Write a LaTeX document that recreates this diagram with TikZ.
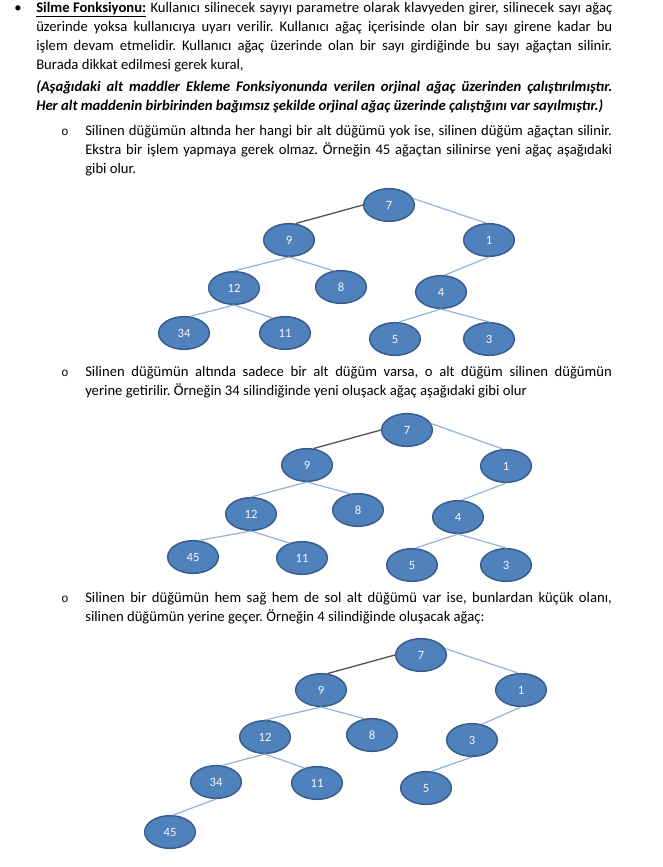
\documentclass[tikz,border=0pt]{standalone}
\usepackage{fontspec}
\setmainfont{Carlito}
\newfontfamily\monof{Liberation Mono}
\usetikzlibrary{shapes.geometric}
\definecolor{nodefill}{HTML}{4F81BD}
\definecolor{nodedraw}{HTML}{385D8A}
\definecolor{nodetext}{HTML}{F2F5FA}
\definecolor{edgeblue}{HTML}{93B3DB}
\definecolor{edgedark}{HTML}{555555}
\tikzset{
 tn/.style={ellipse, fill=nodefill, draw=nodedraw, line width=1.1pt, minimum width=38pt, minimum height=24.5pt, inner sep=0pt, text=nodetext, font=\fontsize{9.5}{11}\selectfont},
 eb/.style={draw=edgeblue, line width=0.9pt},
 ed/.style={draw=edgedark, line width=1pt},
 txt/.style={anchor=base west, inner sep=0pt, font=\fontsize{11}{13}\selectfont\frenchspacing},
 bul/.style={anchor=base, inner sep=0pt, font=\fontsize{11}{13}\selectfont},
 subbul/.style={anchor=base, inner sep=0pt, font=\fontsize{9}{11}\monof},
}
\begin{document}
\begin{tikzpicture}[x=0.75pt, y=-0.75pt]
\useasboundingbox (0,0) rectangle (663,867);
\fill[white] (0,0) rectangle (663,867);

% ---- paragraph 1 ----
\node[bul] (b1) at (18,12.5) {•};
\node[txt] (l1) at (36,12.5) {\makebox[432pt][s]{\underline{\textbf{Silme Fonksiyonu:}} Kullanıcı silinecek sayıyı parametre olarak klavyeden girer, silinecek sayı ağaç}};
\node[txt] (l2) at (36,31.5) {\makebox[432pt][s]{üzerinde yoksa kullanıcıya uyarı verilir. Kullanıcı ağaç içerisinde olan bir sayı girene kadar bu}};
\node[txt] (l3) at (36,50.5) {\makebox[432pt][s]{işlem devam etmelidir. Kullanıcı ağaç üzerinde olan bir sayı girdiğinde bu sayı ağaçtan silinir.}};
\node[txt] (l4) at (36,69.5) {Burada dikkat edilmesi gerek kural,};
\node[txt] (l5) at (36,91.5) {\makebox[432pt][s]{\bfseries\itshape (Aşağıdaki alt maddler Ekleme Fonksiyonunda verilen orjinal ağaç üzerinden çalıştırılmıştır.}};
\node[txt] (l6) at (36,110.5) {\bfseries\itshape Her alt maddenin birbirinden bağımsız şekilde orjinal ağaç üzerinde çalıştığını var sayılmıştır.)};

% ---- sub item 1 ----
\node[subbul] (s1) at (65,135.5) {o};
\node[txt] (l7) at (85,135.5) {\makebox[395pt][s]{Silinen düğümün altında her hangi bir alt düğümü yok ise, silinen düğüm ağaçtan silinir.}};
\node[txt] (l8) at (85,154.5) {\makebox[395pt][s]{Ekstra bir işlem yapmaya gerek olmaz. Örneğin 45 ağaçtan silinirse yeni ağaç aşağıdaki}};
\node[txt] (l9) at (85,173.5) {gibi olur.};

% ---- tree 1 ----
\node[tn] (a7) at (389,205) {7};
\node[tn] (a9) at (289,240) {9};
\node[tn] (a1) at (489,240) {1};
\node[tn] (a12) at (234,288) {12};
\node[tn] (a8) at (341,287) {8};
\node[tn] (a4) at (441,292) {4};
\node[tn] (a34) at (184,333) {34};
\node[tn] (a11) at (285,333) {11};
\node[tn] (a5) at (395,339) {5};
\node[tn] (a3) at (489,339) {3};
\draw[ed] (a7.west) -- (a9.68);
\draw[eb] (a7.15) -- (a1.100);
\draw[eb] (a9.south) -- (a12.north);
\draw[eb] (a9.south) -- (a8.115);
\draw[eb] (a12.south) -- (a34.70);
\draw[eb] (a12.south) -- (a11.130);
\draw[eb] (a1.south) -- (a4.78);
\draw[eb] (a4.south) -- (a5.78);
\draw[eb] (a4.south) -- (a3.north);

% ---- sub item 2 ----
\node[subbul] (s2) at (65,376.5) {o};
\node[txt] (l10) at (85,376.5) {\makebox[395pt][s]{Silinen düğümün altında sadece bir alt düğüm varsa, o alt düğüm silinen düğümün}};
\node[txt] (l11) at (85,395.5) {yerine getirilir. Örneğin 34 silindiğinde yeni oluşack ağaç aşağıdaki gibi olur};

% ---- tree 2 ----
\node[tn] (b7) at (407,430) {7};
\node[tn] (b9) at (307,465) {9};
\node[tn] (b1) at (506,466) {1};
\node[tn] (b12) at (251,514) {12};
\node[tn] (b8) at (358,510) {8};
\node[tn] (b4) at (458,517) {4};
\node[tn] (b45) at (193,557) {45};
\node[tn] (b11) at (302,558) {11};
\node[tn] (b5) at (412,565) {5};
\node[tn] (b3) at (506,565) {3};
\draw[ed] (b7.west) -- (b9.68);
\draw[eb] (b7.15) -- (b1.100);
\draw[eb] (b9.south) -- (b12.north);
\draw[eb] (b9.south) -- (b8.115);
\draw[eb] (b12.south) -- (b45.70);
\draw[eb] (b12.south) -- (b11.130);
\draw[eb] (b1.south) -- (b4.78);
\draw[eb] (b4.south) -- (b5.78);
\draw[eb] (b4.south) -- (b3.north);

% ---- sub item 3 ----
\node[subbul] (s3) at (65,602) {o};
\node[txt] (l12) at (85,602) {\makebox[395pt][s]{Silinen bir düğümün hem sağ hem de sol alt düğümü var ise, bunlardan küçük olanı,}};
\node[txt] (l13) at (85,621) {silinen düğümün yerine geçer. Örneğin 4 silindiğinde oluşacak ağaç:};

% ---- tree 3 ----
\node[tn] (c7) at (421,655) {7};
\node[tn] (c9) at (321,690) {9};
\node[tn] (c1) at (521,690) {1};
\node[tn] (c12) at (265,737) {12};
\node[tn] (c8) at (372,735) {8};
\node[tn] (c3) at (472,740) {3};
\node[tn] (c34) at (216,782) {34};
\node[tn] (c11) at (317,783) {11};
\node[tn] (c5) at (426,788) {5};
\node[tn] (c45) at (170,832) {45};
\draw[ed] (c7.west) -- (c9.68);
\draw[eb] (c7.15) -- (c1.100);
\draw[eb] (c9.south) -- (c12.north);
\draw[eb] (c9.south) -- (c8.115);
\draw[eb] (c12.south) -- (c34.70);
\draw[eb] (c12.south) -- (c11.130);
\draw[eb] (c1.south) -- (c3.58);
\draw[eb] (c3.south) -- (c5.72);
\draw[eb] (c34.south) -- (c45.80);
\end{tikzpicture}
\end{document}
